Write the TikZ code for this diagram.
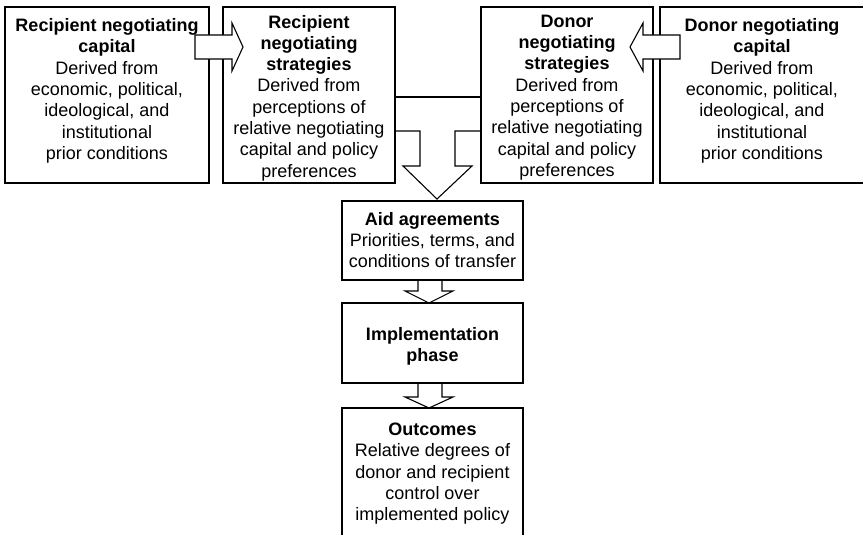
\documentclass[tikz,border=0pt]{standalone}
\usepackage{fontspec}
\setmainfont{Liberation Sans}
\begin{document}
\begin{tikzpicture}[x=1pt,y=-1pt,
  box/.style={draw=black, line width=1.1pt, fill=white, inner sep=0pt, outer sep=0pt},
  txt/.style={align=center, inner sep=0pt, outer sep=0pt, font=\fontsize{18}{21.3}\selectfont, text=black},
  blk/.style={draw=black, line width=1.1pt, fill=white, line join=miter},
  conn/.style={draw=black, line width=1.1pt, line join=miter}]
\useasboundingbox (0,0) rectangle (863,535);
\begin{scope}
\clip (0,0) rectangle (863,535);
% boxes
\node[box, minimum width=204pt, minimum height=176pt] (rc) at (107,95) {};
\node[box, minimum width=172pt, minimum height=176pt] (rs) at (309,95) {};
\node[box, minimum width=172pt, minimum height=176pt] (ds) at (567,95) {};
\node[box, minimum width=204pt, minimum height=176pt] (dc) at (762,95) {};
\node[box, minimum width=181pt, minimum height=79pt] (ag) at (432.5,240.5) {};
\node[box, minimum width=181pt, minimum height=80pt] (im) at (432.5,343) {};
\node[box, minimum width=181pt, minimum height=152pt] (oc) at (432.5,484) {};
% texts
\node[txt, anchor=north] (rct) at ([yshift=-11.5pt]rc.north) {\textbf{Recipient negotiating}\\\textbf{capital}\\Derived from\\economic, political,\\ideological, and\\institutional\\prior conditions};
\node[txt, anchor=north] (rst) at ([yshift=-8pt]rs.north) {\textbf{Recipient}\\\textbf{negotiating}\\\textbf{strategies}\\Derived from\\perceptions of\\relative negotiating\\capital and policy\\preferences};
\node[txt, anchor=north] (dst) at ([yshift=-8pt]ds.north) {\textbf{Donor}\\\textbf{negotiating}\\\textbf{strategies}\\Derived from\\perceptions of\\relative negotiating\\capital and policy\\preferences};
\node[txt, anchor=north] (dct) at ([yshift=-11.5pt]dc.north) {\textbf{Donor negotiating}\\\textbf{capital}\\Derived from\\economic, political,\\ideological, and\\institutional\\prior conditions};
\node[txt, anchor=north] (agt) at ([yshift=-11pt]ag.north) {\textbf{Aid agreements}\\Priorities, terms, and\\conditions of transfer};
\node[txt, anchor=north] (imt) at ([yshift=-24pt]im.north) {\textbf{Implementation}\\\textbf{phase}};
\node[txt, anchor=north] (oct) at ([yshift=-15pt]oc.north) {\textbf{Outcomes}\\Relative degrees of\\donor and recipient\\control over\\implemented policy};
% horizontal block arrows
\draw[blk] ([xshift=-14pt,yshift=-28pt]rc.north east) -- ++(37,0) -- ++(0,-12) -- ++(11,24) -- ++(-11,24) -- ++(0,-12) -- ++(-37,0) -- cycle;
\draw[blk] ([xshift=20pt,yshift=-28pt]dc.north west) -- ++(-37,0) -- ++(0,-12) -- ++(-13,24) -- ++(13,24) -- ++(0,-12) -- ++(37,0) -- cycle;
% merge connectors
\draw[conn] ([yshift=-90pt]rs.north east) -- ([yshift=-90pt]ds.north west);
\draw[conn] ([yshift=-124pt]rs.north east) -- ++(25,0) -- ++(0,35) -- ++(-17,0) -- ++(34,33) -- ++(35,-33) -- ++(-17,0) -- ++(0,-35) -- ([yshift=-124pt]ds.north west);
% vertical block arrows
\draw[conn] ([xshift=-14.5pt]ag.south) -- ++(0,11) -- ++(-13,0) -- ++(24,12) -- ++(24,-12) -- ++(-11,0) -- ([xshift=9.5pt]ag.south);
\draw[conn] ([xshift=-14.5pt]im.south) -- ++(0,14) -- ++(-13,0) -- ++(24,11) -- ++(24,-11) -- ++(-11,0) -- ([xshift=9.5pt]im.south);
\end{scope}
\end{tikzpicture}
\end{document}
